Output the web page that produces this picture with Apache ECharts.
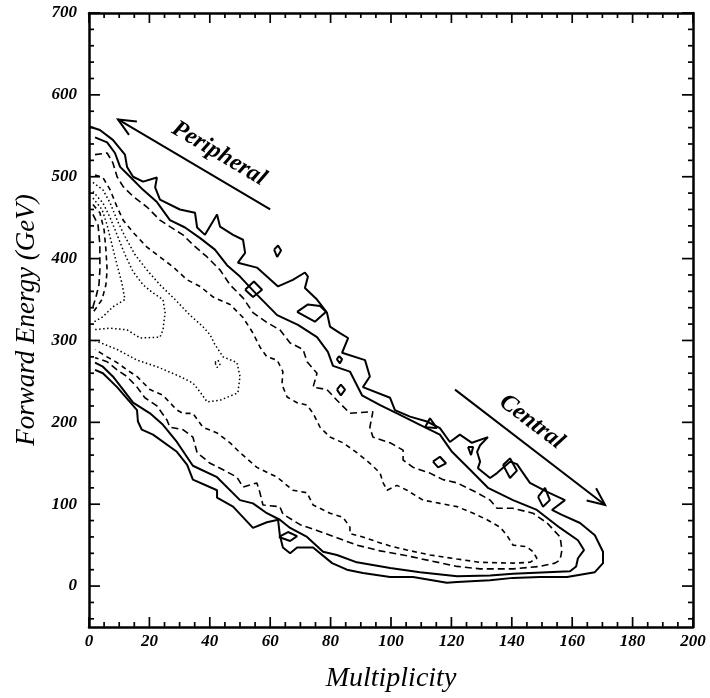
<!DOCTYPE html>
<html><head><meta charset="utf-8">
<script src="https://cdn.jsdelivr.net/npm/echarts@6/dist/echarts.min.js"></script>
<style>html,body{margin:0;padding:0;background:#fff}#c{width:710px;height:698px}</style>
</head><body><div id="c"></div>
<script>
// ---- axis ranges and tick values ----
const X_MIN = 0, X_MAX = 200, Y_MIN = -50, Y_MAX = 700;
const xMajorTicks = [0, 20, 40, 60, 80, 100, 120, 140, 160, 180, 200];
const xMinorTicks = [5, 10, 15, 25, 30, 35, 45, 50, 55, 65, 70, 75, 85, 90, 95, 105, 110, 115, 125, 130, 135, 145, 150, 155, 165, 170, 175, 185, 190, 195];
const yMajorTicks = [0, 100, 200, 300, 400, 500, 600, 700];
const yMinorTicks = [-40, -20, 20, 40, 60, 80, 120, 140, 160, 180, 220, 240, 260, 280, 320, 340, 360, 380, 420, 440, 460, 480, 520, 540, 560, 580, 620, 640, 660, 680];

// ---- contour lines (Multiplicity, Forward Energy GeV) ----
const contourOuterSolid = [[0.3,561],[3.6,557],[7.9,545],[11.9,527],[12.6,512],[14.6,500],[17.9,494],[22.5,499],[21.9,487],[23.5,472],[30.1,460],[35.1,456],[35.8,438],[38.4,429],[42.4,454],[43.4,439],[47.7,429],[51,423],[51.7,407],[49.3,395],[55.6,389],[62.6,366],[67.5,374],[71.5,383],[72.5,378],[71.5,364],[75.5,350],[78.8,334],[79.8,317],[83.1,309],[85.8,303],[83.8,285],[91.4,276],[93,256],[90.7,243],[99.7,230],[101.3,215],[106.3,207],[111.9,201],[116.2,193],[119.5,176],[122.8,185],[126.8,175],[132.1,182],[129.5,172],[128.5,164],[129.5,152],[128.8,144],[132.8,132],[135.1,138],[139.4,152],[141.7,149],[146,126],[151.7,115],[157.6,105],[153.3,93],[156.6,87],[162.6,77],[167.5,62],[170.2,42],[170.2,28],[167.5,17],[158.3,11],[149.3,11],[140.4,10],[132.8,7],[121.9,5],[118.5,4],[107.3,11],[99.7,11],[90.7,16],[85.4,20],[80.5,28],[74.2,47],[68.9,47],[66.6,40],[64.2,47],[63.2,62],[62.6,81],[58.9,78],[54.3,71],[47.7,97],[42.4,108],[42.4,117],[34.4,130],[32.5,148],[29.1,164],[21.2,185],[17.5,191],[16.2,201],[15.9,215],[9.3,243],[4.6,260],[2,264]];
const contourInnerSolid = [[2,548],[6,542],[8.6,529],[10.3,512],[13.6,500],[17.9,484],[22.5,469],[26.8,447],[31.8,438],[36.8,425],[41.7,411],[45.7,392],[50,378],[55.6,356],[62.3,331],[69.2,319],[75.5,304],[79.1,286],[80.8,269],[86.4,262],[90.4,233],[96.4,221],[103,209],[109.6,197],[116.2,185],[120.2,164],[126.2,142],[132.1,120],[140.4,105],[148.3,93],[156,71],[161.9,56],[163.9,44],[161.9,34],[161.3,24],[159.3,18],[151.7,17],[140.4,15],[132.8,13],[121.9,12],[109.6,17],[99.7,22],[88.7,29],[82.1,38],[77.5,42],[72.2,60],[66.6,71],[63.2,81],[58.9,89],[54.3,101],[50,105],[42.4,133],[34.4,147],[29.1,176],[24.5,197],[20.2,211],[14.6,224],[11.3,240],[7.9,256],[4.6,268],[2,273]];
const contourLongDash = [[2,527],[6,529],[7.9,517],[9.3,500],[11.3,488],[14.6,476],[19.2,463],[23.5,447],[26.8,439],[31.1,429],[34.4,417],[39.1,402],[43.4,386],[46.7,368],[51,352],[54.3,334],[58.9,322],[63.2,313],[66.6,297],[70.9,289],[72.2,274],[75.5,260],[74.2,243],[78.8,240],[82.1,227],[86.4,211],[94,213],[93,194],[94,182],[99.7,175],[104,166],[104,154],[107.3,145],[112.9,138],[117.2,130],[121.9,126],[128.5,114],[132.8,105],[135.1,95],[140.4,95],[147,89],[151.7,77],[156,60],[156.6,44],[156,32],[154.3,28],[149.3,24],[140.4,21],[129.5,21],[121.9,24],[112.9,31],[105.3,37],[96.4,43],[88.7,50],[82.1,59],[75.5,68],[69.9,75],[64.2,88],[63.2,97],[57.6,99],[56.6,114],[55.6,126],[51,121],[49,133],[44.4,142],[40.1,150],[35.8,163],[34.4,182],[31.1,191],[26.8,194],[25.8,203],[22.5,220],[18.5,230],[15.9,243],[12.6,256],[9.3,264],[6,274],[2,279]];
const contourShortDash = [[2,502],[4.6,499],[7,484],[9.3,463],[11.3,447],[14.6,432],[19.2,414],[23.5,402],[27.8,390],[32.5,374],[36.8,366],[41.1,353],[46.7,344],[51,328],[54.3,309],[56.6,292],[58.9,280],[62.3,276],[64.2,262],[63.9,246],[65.6,231],[68.9,224],[72.2,221],[74.2,211],[76.5,194],[79.8,182],[84.1,175],[88.7,163],[93,150],[96.4,138],[97.4,126],[98.7,117],[102,123],[105.3,117],[110.6,105],[116.2,101],[121.9,97],[127.2,89],[131.8,81],[136.1,72],[138.4,62],[140.4,50],[145,48],[147,42],[148.3,34],[146,29],[140.4,28],[129.5,29],[121.9,33],[112.9,38],[105.3,44],[99.7,49],[95.4,54],[90.7,60],[86.4,64],[86.4,72],[84.1,84],[79.8,89],[74.2,99],[72.2,114],[67.5,117],[62.3,133],[55.6,145],[50,163],[46.7,175],[42.4,187],[37.7,194],[34.4,211],[31.1,211],[29.1,215],[26.8,224],[24.5,233],[20.2,240],[15.9,256],[12.6,264],[9.3,273],[6,280],[2,289]];
const contourDotOuter = [[1.3,493],[4.6,484],[7,468],[9.3,447],[11.9,427],[15.2,405],[19.2,386],[23.5,368],[28.5,350],[33.4,331],[37.7,317],[40.1,307],[41.7,295],[44.4,280],[49,273],[50,256],[49.3,236],[43.4,227],[39.1,225],[36.8,237],[34.4,248],[30.1,256],[22.5,268],[15.9,276],[9.3,289],[1.3,301]];
const contourDotMid = [[1.3,482],[4.6,468],[7,450],[9.3,429],[11.9,405],[14.6,384],[17.9,368],[21.2,358],[24.5,350],[25.2,334],[24.5,313],[23.5,304],[16.9,303],[12.6,313],[7,315],[1.3,313]];
const contourDotInner = [[1.3,474],[4.3,460],[6,441],[7.6,417],[9.3,392],[10.9,370],[11.9,350],[7.9,341],[4.6,329],[1.3,322]];
const contourPocketDashB = [[1.3,466],[3.6,456],[5,435],[5.6,411],[6,386],[5.6,368],[4.3,350],[1.3,334]];
const contourPocketDashA = [[1.3,454],[3,441],[3.6,417],[3.6,386],[3.3,368],[2.3,353],[1.3,341]];

// small closed solid islands
const islandsSolid = [
  [[61.3,411],[62.6,416],[63.6,410],[62.3,402],[61.3,411]],
  [[51.7,362],[54.6,372],[57.3,362],[54.3,353],[51.7,362]],
  [[68.9,335],[72.5,344],[76.5,342],[78.5,335],[74.8,323],[68.9,335]],
  [[82.8,281],[83.8,277],[83.1,272],[82.1,277],[82.8,281]],
  [[82.1,240],[83.4,246],[84.8,240],[83.4,233],[82.1,240]],
  [[111.3,194],[112.9,205],[115.2,193],[111.3,194]],
  [[113.9,152],[116.2,158],[118.2,150],[115.6,145],[113.9,152]],
  [[125.5,170],[127.2,170],[126.5,160],[125.5,170]],
  [[137.1,148],[139.4,156],[141.7,141],[139.4,132],[137.1,148]],
  [[148.7,109],[151,120],[152.6,105],[150.3,97],[148.7,109]],
  [[62.9,60],[65.9,66],[68.9,61],[66.6,55],[62.9,60]]
];
const islandsDot = [
  [[41.7,273],[42.7,276],[43.4,271],[42.4,267],[41.7,273]]
];

// annotation arrows: [tailX, tailY, headX, headY]
const arrowData = [[60, 460, 9.6, 570], [121.2, 240, 170.9, 99]];
const arrowLabels = ['Peripheral', 'Central'];

const SERIF = "'Liberation Serif','DejaVu Serif',serif";
const GRID = {left: 89, right: 17, top: 13, bottom: 71};
const W = 710, H = 698;
const chart = echarts.init(document.getElementById('c'), null, {renderer: 'canvas'});

const styles = {
  solid: {color: '#000', width: 2, type: 'solid'},
  long: {color: '#000', width: 1.6, type: [7, 4]},
  short: {color: '#000', width: 1.6, type: [5, 4]},
  dot: {color: '#000', width: 1.5, type: [1.5, 2.5]},
  tick: {color: '#000', width: 1.7, type: 'solid'}
};
function lineSeries(data, st, extra) {
  return Object.assign({type: 'line', data: data, showSymbol: false, symbol: 'none', smooth: false,
    lineStyle: styles[st], silent: true, animation: false, z: 3}, extra || {});
}

const series = [
  lineSeries(contourOuterSolid, 'solid'),
  lineSeries(contourInnerSolid, 'solid'),
  lineSeries(contourLongDash, 'long'),
  lineSeries(contourShortDash, 'short'),
  lineSeries(contourDotOuter, 'dot'),
  lineSeries(contourDotMid, 'dot'),
  lineSeries(contourDotInner, 'dot'),
  lineSeries(contourPocketDashB, 'short'),
  lineSeries(contourPocketDashA, 'long')
];
islandsSolid.forEach(d => series.push(lineSeries(d, 'solid')));
islandsDot.forEach(d => series.push(lineSeries(d, 'dot')));

// arrows with labels
const labelT = [0.41, 0.425];
const labelOff = [22, 21];
series.push({
  type: 'custom', coordinateSystem: 'cartesian2d', data: arrowData, silent: true, animation: false, z: 4,
  renderItem: function (params, api) {
    const p0 = api.coord([api.value(0), api.value(1)]);
    const p1 = api.coord([api.value(2), api.value(3)]);
    const dx = p1[0] - p0[0], dy = p1[1] - p0[1];
    const L = Math.hypot(dx, dy), ux = dx / L, uy = dy / L;
    const hl = 19, a = 0.42;
    const bx = -ux, by = -uy;
    const w1 = [p1[0] + hl * (bx * Math.cos(a) - by * Math.sin(a)), p1[1] + hl * (bx * Math.sin(a) + by * Math.cos(a))];
    const w2 = [p1[0] + hl * (bx * Math.cos(-a) - by * Math.sin(-a)), p1[1] + hl * (bx * Math.sin(-a) + by * Math.cos(-a))];
    let nx = -uy, ny = ux;
    if (ny > 0) { nx = -nx; ny = -ny; }
    const i = params.dataIndex;
    const t = labelT[i] * L, off = labelOff[i];
    const cx = p0[0] + t * ux + off * nx, cy = p0[1] + t * uy + off * ny;
    let ddx = ux, ddy = uy;
    if (ddx < 0) { ddx = -ddx; ddy = -ddy; }
    const rot = -Math.atan2(ddy, ddx);
    return {type: 'group', children: [
      {type: 'line', shape: {x1: p0[0], y1: p0[1], x2: p1[0], y2: p1[1]}, style: {stroke: '#000', lineWidth: 2}},
      {type: 'polyline', shape: {points: [w1, p1, w2]}, style: {stroke: '#000', lineWidth: 2, fill: null}},
      {type: 'text', x: cx, y: cy, rotation: rot, style: {text: arrowLabels[i], fill: '#000',
        font: 'italic bold 24px ' + SERIF, align: 'center', verticalAlign: 'middle'}}
    ]};
  }
});

// frame ticks on all four sides: one tiny line series per tick, lengths converted from pixels via the axis spans
const yUnitsPerPx = (Y_MAX - Y_MIN) / (H - GRID.top - GRID.bottom);
const xUnitsPerPx = (X_MAX - X_MIN) / (W - GRID.left - GRID.right);
const edgeX = 0.2 * xUnitsPerPx, edgeY = 0.2 * yUnitsPerPx;
function addTicks(values, isX, lenPx) {
  values.forEach(v => {
    if (isX) {
      const d = lenPx * yUnitsPerPx;
      series.push(lineSeries([[v, Y_MIN + edgeY], [v, Y_MIN + d]], 'tick', {clip: false, z: 6}));
      series.push(lineSeries([[v, Y_MAX - edgeY], [v, Y_MAX - d]], 'tick', {clip: false, z: 6}));
    } else {
      const d = lenPx * xUnitsPerPx;
      series.push(lineSeries([[X_MIN + edgeX, v], [X_MIN + d, v]], 'tick', {clip: false, z: 6}));
      series.push(lineSeries([[X_MAX - edgeX, v], [X_MAX - d, v]], 'tick', {clip: false, z: 6}));
    }
  });
}
addTicks(xMajorTicks, true, 10);
addTicks(xMinorTicks, true, 5);
addTicks(yMajorTicks, false, 11);
addTicks(yMinorTicks, false, 5);

const tickLabelStyle = {color: '#000', fontFamily: SERIF, fontStyle: 'italic', fontWeight: 'bold', fontSize: 17};
function xAx(pos, showLabel) {
  return {type: 'value', position: pos, min: X_MIN, max: X_MAX, interval: 20,
    axisLine: {show: true, onZero: false, lineStyle: {color: '#000', width: 2.5}},
    axisTick: {show: false}, minorTick: {show: false},
    splitLine: {show: false}, minorSplitLine: {show: false},
    axisLabel: Object.assign({show: showLabel, margin: 6}, tickLabelStyle),
    name: showLabel ? 'Multiplicity' : '', nameLocation: 'middle', nameGap: 38,
    nameTextStyle: {color: '#000', fontFamily: SERIF, fontStyle: 'italic', fontSize: 28}
  };
}
function yAx(pos, showLabel) {
  return {type: 'value', position: pos, min: Y_MIN, max: Y_MAX,
    axisLine: {show: true, onZero: false, lineStyle: {color: '#000', width: 2.5}},
    axisTick: {show: false},
    splitLine: {show: false},
    axisLabel: Object.assign({show: showLabel, margin: 12, customValues: yMajorTicks}, tickLabelStyle),
    name: showLabel ? 'Forward Energy (GeV)' : '', nameLocation: 'middle', nameGap: 47,
    nameTextStyle: {color: '#000', fontFamily: SERIF, fontStyle: 'italic', fontSize: 27}
  };
}

chart.setOption({
  animation: false,
  backgroundColor: '#fff',
  grid: Object.assign({containLabel: false}, GRID),
  xAxis: [xAx('bottom', true), xAx('top', false)],
  yAxis: [yAx('left', true), yAx('right', false)],
  series: series
});
</script>
</body></html>
